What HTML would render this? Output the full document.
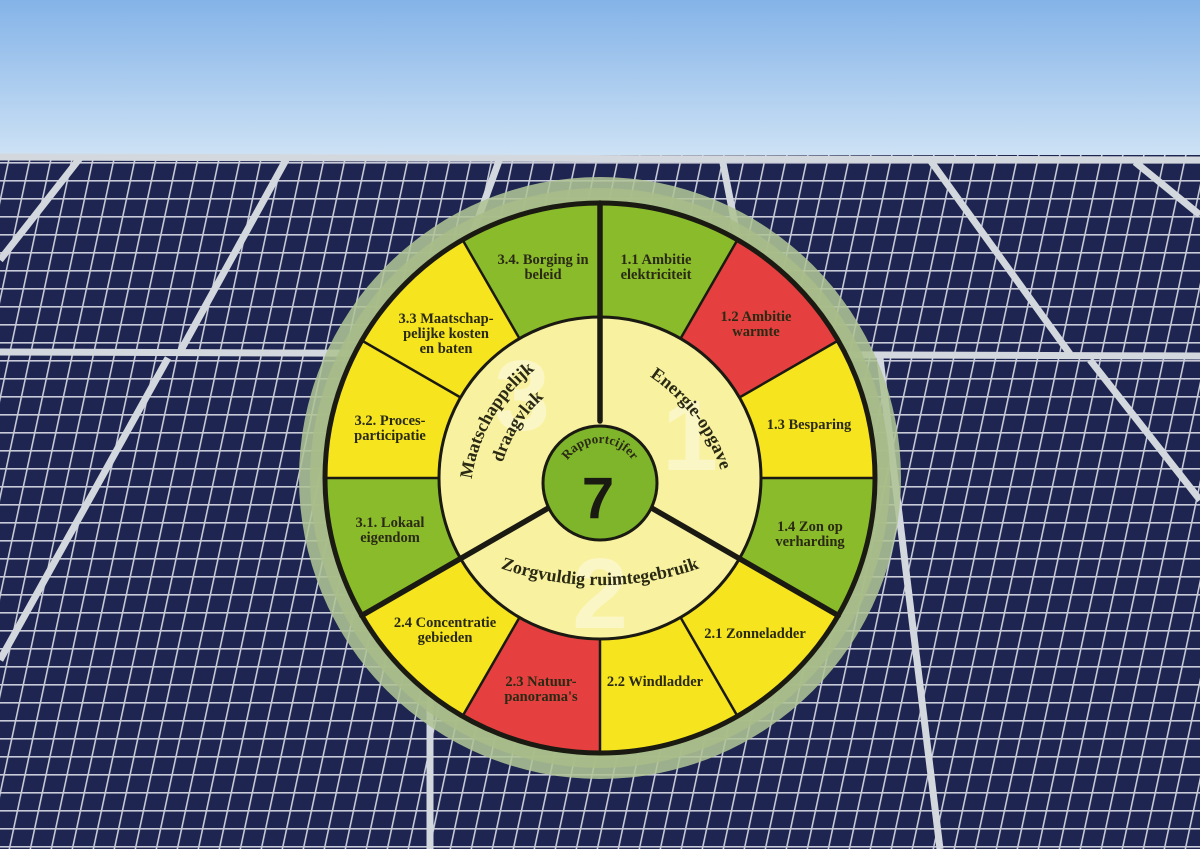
<!DOCTYPE html>
<html><head><meta charset="utf-8"><style>html,body{margin:0;padding:0;background:#000}svg{display:block}</style></head>
<body>
<svg width="1200" height="849" viewBox="0 0 1200 849" xmlns="http://www.w3.org/2000/svg">
<defs>
<linearGradient id="sky" x1="0" y1="0" x2="0" y2="1"><stop offset="0" stop-color="#84b3e8"/><stop offset="1" stop-color="#cfe3f5"/></linearGradient>
<pattern id="cells" width="21" height="18" patternUnits="userSpaceOnUse" patternTransform="skewX(-12)">
<rect width="21" height="18" fill="#1e2550"/>
<rect x="0" y="0" width="21" height="1.6" fill="#c9ccd8"/>
<rect x="0" y="0" width="1.6" height="18" fill="#c9ccd8"/>
</pattern>
<path id="arcE" d="M 632 366 A 180 180 0 0 1 726 490"/>
<path id="arcZ" d="M 500 568 A 300 300 0 0 0 700 568"/>
<path id="arcM1" d="M 470 500 A 170 170 0 0 1 552 358"/>
<path id="arcM2" d="M 498 485 A 140 140 0 0 1 562 384"/>
<path id="arcR" d="M 561 482 A 39 39 0 0 1 639 482"/>
</defs>
<rect width="1200" height="160" fill="url(#sky)"/>
<rect y="155" width="1200" height="694" fill="url(#cells)"/>
<g stroke="#d3d7de" stroke-width="7" fill="none">
<line x1="0" y1="157" x2="1200" y2="160"/>
<line x1="0" y1="352" x2="1200" y2="356"/>
<line x1="80" y1="158" x2="0" y2="260"/>
<line x1="287" y1="158" x2="180" y2="352"/>
<line x1="500" y1="158" x2="430" y2="352"/>
<line x1="722" y1="158" x2="760" y2="352"/>
<line x1="930" y1="160" x2="1070" y2="354"/>
<line x1="1135" y1="162" x2="1200" y2="215"/>
<line x1="168" y1="358" x2="0" y2="660"/>
<line x1="430" y1="358" x2="430" y2="849"/>
<line x1="880" y1="358" x2="940" y2="849"/>
<line x1="1090" y1="360" x2="1200" y2="500"/>
</g>
<circle cx="600" cy="478" r="301" fill="#afc495" opacity="0.88"/>
<circle cx="600" cy="478" r="290" fill="#a7bd88" opacity="0.9"/>
<g stroke="none">
<path d="M600,478 L600,203 A275,275 0 0 1 737.5,239.8 Z" fill="#8abb2a"/>
<path d="M600,478 L737.5,239.8 A275,275 0 0 1 838.2,340.5 Z" fill="#e5403f"/>
<path d="M600,478 L838.2,340.5 A275,275 0 0 1 875,478 Z" fill="#f6e41e"/>
<path d="M600,478 L875,478 A275,275 0 0 1 838.2,615.5 Z" fill="#8abb2a"/>
<path d="M600,478 L838.2,615.5 A275,275 0 0 1 737.5,716.2 Z" fill="#f6e41e"/>
<path d="M600,478 L737.5,716.2 A275,275 0 0 1 600,753 Z" fill="#f6e41e"/>
<path d="M600,478 L600,753 A275,275 0 0 1 462.5,716.2 Z" fill="#e5403f"/>
<path d="M600,478 L462.5,716.2 A275,275 0 0 1 361.8,615.5 Z" fill="#f6e41e"/>
<path d="M600,478 L361.8,615.5 A275,275 0 0 1 325,478 Z" fill="#8abb2a"/>
<path d="M600,478 L325,478 A275,275 0 0 1 361.8,340.5 Z" fill="#f6e41e"/>
<path d="M600,478 L361.8,340.5 A275,275 0 0 1 462.5,239.8 Z" fill="#f6e41e"/>
<path d="M600,478 L462.5,239.8 A275,275 0 0 1 600,203 Z" fill="#8abb2a"/>
</g>
<g stroke="#1a1a12" stroke-width="2.5">
<line x1="680.5" y1="338.6" x2="737.5" y2="239.8"/>
<line x1="739.4" y1="397.5" x2="838.2" y2="340.5"/>
<line x1="761" y1="478" x2="875" y2="478"/>
<line x1="680.5" y1="617.4" x2="737.5" y2="716.2"/>
<line x1="600" y1="639" x2="600" y2="753"/>
<line x1="519.5" y1="617.4" x2="462.5" y2="716.2"/>
<line x1="439" y1="478" x2="325" y2="478"/>
<line x1="460.6" y1="397.5" x2="361.8" y2="340.5"/>
<line x1="519.5" y1="338.6" x2="462.5" y2="239.8"/>
</g>
<circle cx="600" cy="478" r="161" fill="#f8f1a0" stroke="#1a1a12" stroke-width="3"/>
<g font-family="Liberation Sans, sans-serif" font-weight="bold" fill="#fcf8cf" opacity="0.8" font-size="100">
<text x="690" y="470" text-anchor="middle">1</text>
<text x="600" y="628" text-anchor="middle">2</text>
<text x="522" y="430" text-anchor="middle">3</text>
</g>
<g stroke="#1a1a12" stroke-width="5.5" stroke-linecap="round">
<line x1="600" y1="203" x2="600" y2="421"/>
<line x1="649" y1="506.5" x2="838.2" y2="615.5"/>
<line x1="551" y1="506.5" x2="361.8" y2="615.5"/>
</g>
<circle cx="600" cy="478" r="275" fill="none" stroke="#1a1a12" stroke-width="5"/>
<circle cx="600" cy="483" r="57" fill="#7fb52b" stroke="#1a1a12" stroke-width="3"/>
<g font-family="Liberation Serif, serif" font-weight="bold" fill="#2a2a14">
<text font-size="18"><textPath href="#arcE" startOffset="50%" text-anchor="middle">Energie-opgave</textPath></text>
<text font-size="18"><textPath href="#arcZ" startOffset="50%" text-anchor="middle">Zorgvuldig ruimtegebruik</textPath></text>
<text font-size="18"><textPath href="#arcM1" startOffset="50%" text-anchor="middle">Maatschappelijk</textPath></text>
<text font-size="18"><textPath href="#arcM2" startOffset="50%" text-anchor="middle">draagvlak</textPath></text>
<text font-size="13"><textPath href="#arcR" startOffset="50%" text-anchor="middle">Rapportcijfer</textPath></text>
</g>
<text x="598" y="518" font-family="Liberation Sans, sans-serif" font-weight="bold" font-size="58" fill="#1a1a12" text-anchor="middle">7</text>
<g font-family="Liberation Serif, serif" font-weight="bold" font-size="14.5" fill="#2a2a14" text-anchor="middle">
<text x="656" y="264">1.1 Ambitie<tspan x="656" dy="15">elektriciteit</tspan></text>
<text x="756" y="321">1.2 Ambitie<tspan x="756" dy="15">warmte</tspan></text>
<text x="809" y="429">1.3 Besparing</text>
<text x="810" y="531">1.4 Zon op<tspan x="810" dy="15">verharding</tspan></text>
<text x="755" y="638">2.1 Zonneladder</text>
<text x="655" y="686">2.2 Windladder</text>
<text x="541" y="686">2.3 Natuur-<tspan x="541" dy="15">panorama's</tspan></text>
<text x="445" y="627">2.4 Concentratie<tspan x="445" dy="15">gebieden</tspan></text>
<text x="390" y="527">3.1. Lokaal<tspan x="390" dy="15">eigendom</tspan></text>
<text x="390" y="425">3.2. Proces-<tspan x="390" dy="15">participatie</tspan></text>
<text x="446" y="323">3.3 Maatschap-<tspan x="446" dy="15">pelijke kosten</tspan><tspan x="446" dy="15">en baten</tspan></text>
<text x="543" y="264">3.4. Borging in<tspan x="543" dy="15">beleid</tspan></text>
</g>
</svg>
</body></html>
